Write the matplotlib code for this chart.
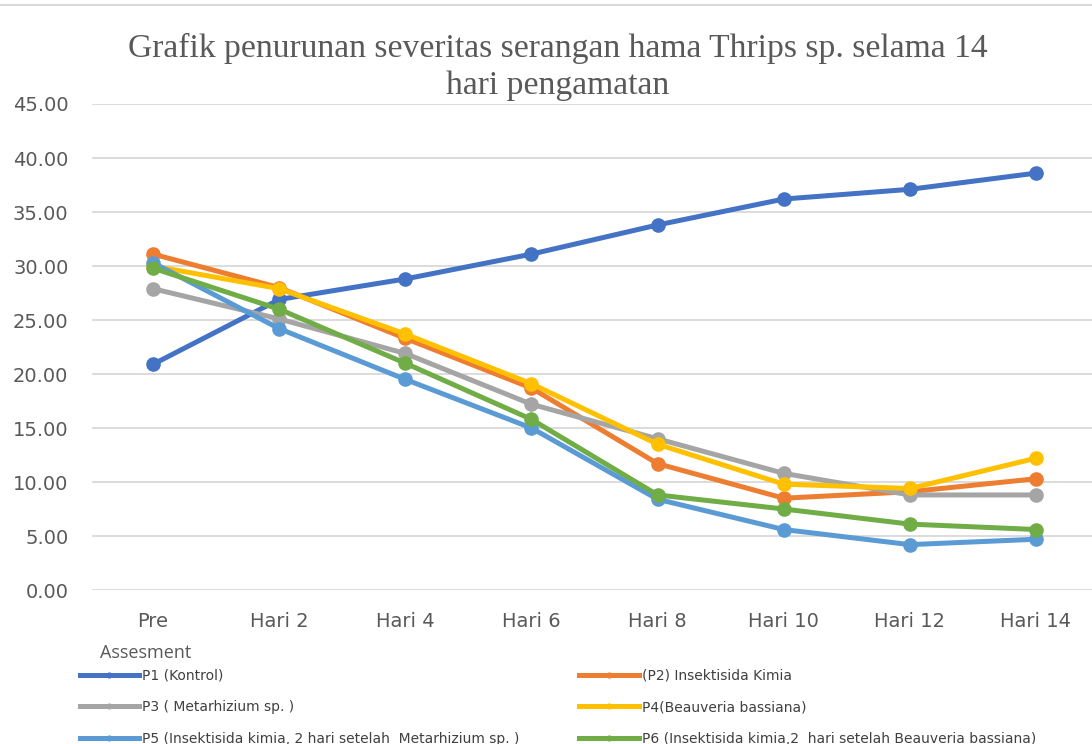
import matplotlib
matplotlib.use("Agg")
import matplotlib.pyplot as plt
from matplotlib.lines import Line2D

categories = ["Pre", "Hari 2", "Hari 4", "Hari 6", "Hari 8", "Hari 10", "Hari 12", "Hari 14"]
p1 = [20.9, 26.9, 28.8, 31.1, 33.8, 36.2, 37.1, 38.6]
p2 = [31.1, 28.0, 23.3, 18.7, 11.7, 8.5, 9.1, 10.3]
p3 = [27.9, 25.1, 21.9, 17.2, 14.0, 10.8, 8.8, 8.8]
p4 = [30.0, 27.9, 23.7, 19.1, 13.5, 9.8, 9.4, 12.2]
p5 = [30.3, 24.2, 19.5, 15.0, 8.4, 5.6, 4.2, 4.7]
p6 = [29.8, 26.0, 21.0, 15.8, 8.8, 7.5, 6.1, 5.6]
labels = ["P1 (Kontrol)", "(P2) Insektisida Kimia", "P3 ( Metarhizium sp. )",
          "P4(Beauveria bassiana)", "P5 (Insektisida kimia, 2 hari setelah  Metarhizium sp. )",
          "P6 (Insektisida kimia,2  hari setelah Beauveria bassiana)"]
colors = ["#4472C4", "#ED7D31", "#A5A5A5", "#FFC000", "#5B9BD5", "#70AD47"]
yticks = [0, 5, 10, 15, 20, 25, 30, 35, 40, 45]

fig = plt.figure(figsize=(10.92, 7.44), dpi=100)
ax = fig.add_axes([92/1092, 1-590/744, 1-92/1092, (590-104)/744])
x = list(range(len(categories)))
series = [p1, p2, p3, p4, p5, p6]
handles = []
for s, c, lab in zip(series, colors, labels):
    ax.plot(x, s, color=c, lw=3.6, marker="o", ms=9.5, label=lab,
            solid_capstyle="round", zorder=3)
    handles.append(Line2D([0], [0], color=c, lw=3.6, marker="|", ms=5, mew=2))

ax.set_xlim(-0.484, 7.444)
ax.set_ylim(0, 45)
ax.set_yticks(yticks)
ax.set_yticklabels([f"{v:.2f}" for v in yticks])
ax.set_xticks(x)
ax.set_xticklabels(categories)
ax.grid(axis="y", color="#D9D9D9", lw=1.3)
ax.set_axisbelow(True)
for sp in ax.spines.values():
    sp.set_visible(False)
ax.tick_params(length=0, labelsize=14, labelcolor="#595959")
ax.tick_params(axis="y", pad=17)
ax.tick_params(axis="x", pad=16)
for t in ax.get_xticklabels() + ax.get_yticklabels():
    t.set_family(["DejaVu Sans"])

fig.text(558/1092, 1-67/744, "Grafik penurunan severitas serangan hama Thrips sp. selama 14\nhari pengamatan",
         ha="center", va="center", family="Liberation Serif", fontsize=24.2, color="#595959",
         linespacing=1.24)

fig.text(100/1092, 1-653/744, "Assesment", ha="left", va="center",
         family=["Open Sans", "DejaVu Sans"], fontsize=13, color="#595959")

fig.add_artist(Line2D([0, 1], [1-5/744, 1-5/744], color="#D9D9D9", lw=1.5))

order = [0, 2, 4, 1, 3, 5]
leg = fig.legend([handles[i] for i in order], [labels[i] for i in order], ncol=2,
                 loc="upper left", bbox_to_anchor=(74/1092, 1-663/744), frameon=False,
                 prop={"family": ["DejaVu Sans"], "size": 10},
                 handlelength=4.3, handletextpad=0.2, labelspacing=1.28, columnspacing=4.3,
                 borderaxespad=0)
for t in leg.get_texts():
    t.set_color("#404040")

fig.savefig("out.png", dpi=100)
